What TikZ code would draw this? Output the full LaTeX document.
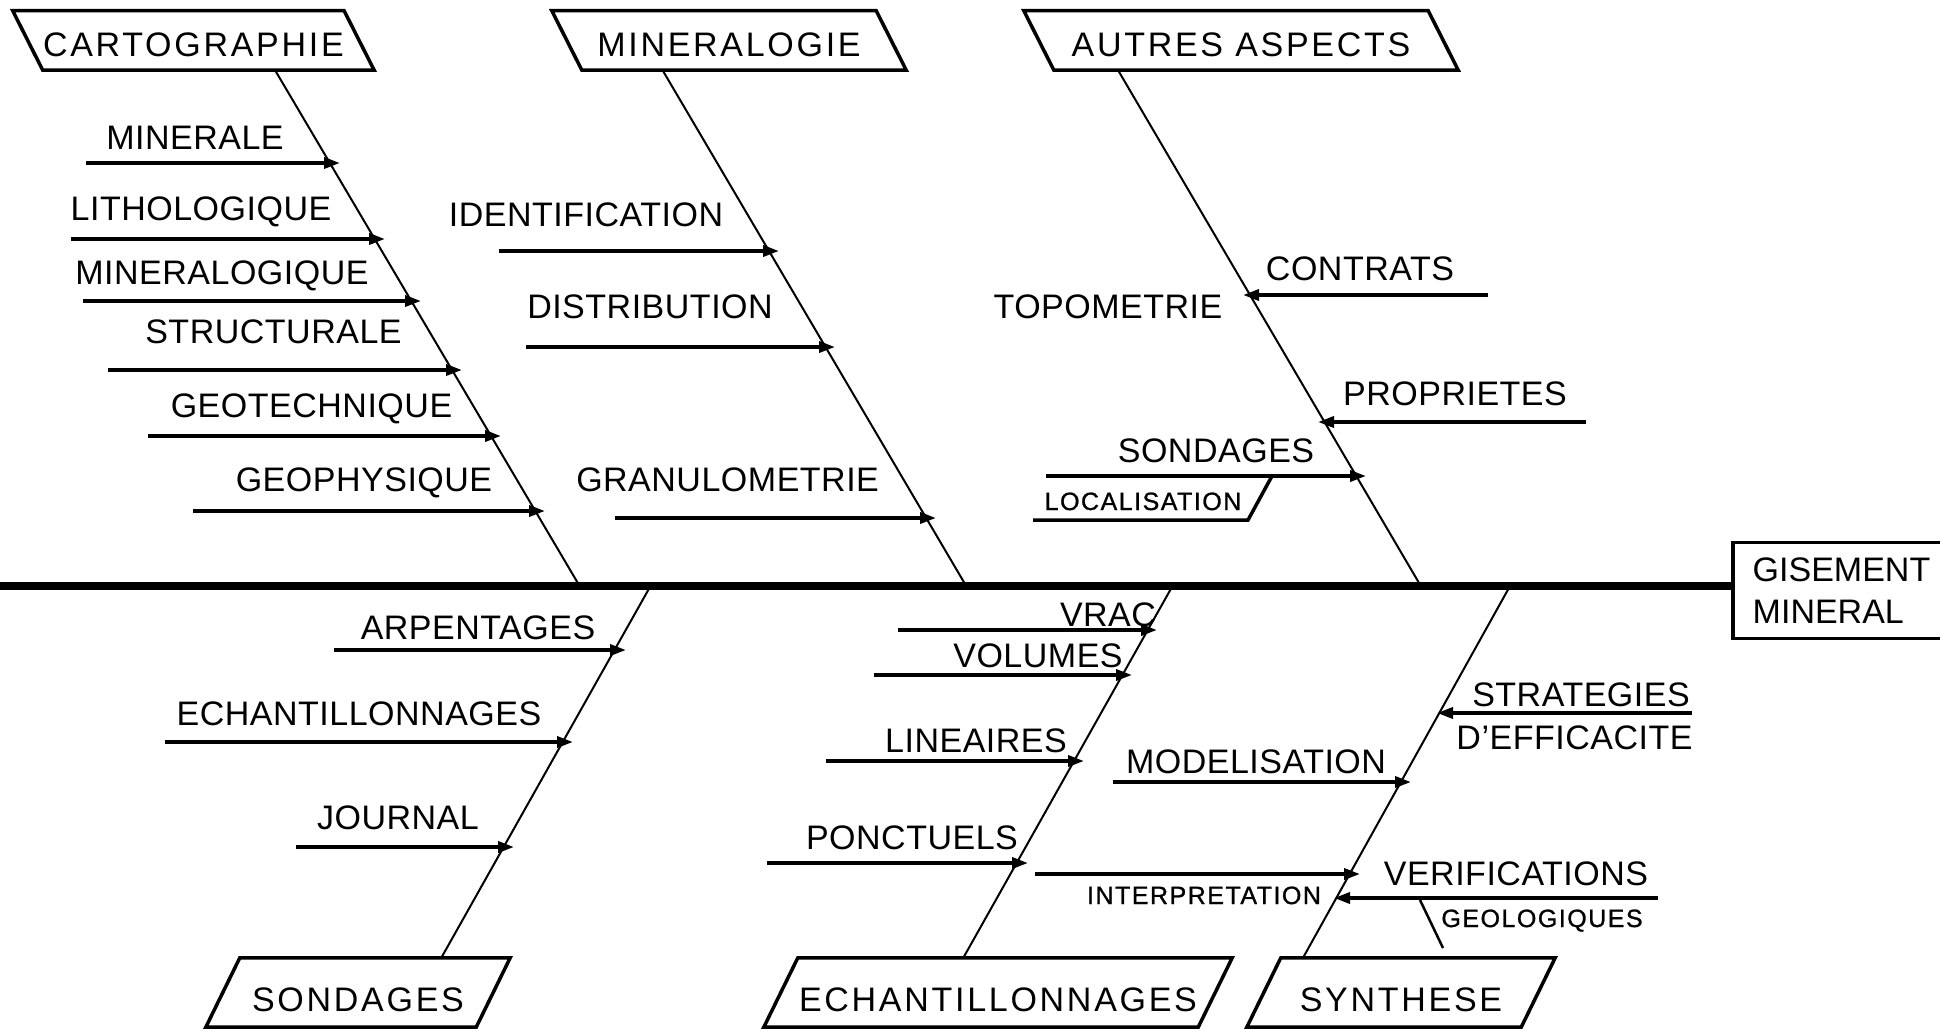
\documentclass[tikz,border=0pt]{standalone}
\usepackage{fontspec}
\setmainfont{Liberation Sans}
\newfontfamily\labelfont{Liberation Sans}[LetterSpace=1.5]
\newfontfamily\titlefont{Liberation Sans}[LetterSpace=8]
\newfontfamily\smallfont{Liberation Sans}[LetterSpace=6,FakeBold=1]
\usetikzlibrary{arrows.meta,calc}

% slanted frame around a (borderless) box node; #2 = horizontal half-offset
\newcommand\slantframe[2]{%
  \draw[frame] ($(#1.north west)-(#2,0)$) -- ($(#1.north east)-(#2,0)$)
    -- ($(#1.south east)+(#2,0)$) -- ($(#1.south west)+(#2,0)$) -- cycle;}

% horizontal cause arrow: name, y, free end x, tip x
\newcommand\causearrow[4]{%
  \coordinate (#1a) at (#3,#2);
  \coordinate (#1b) at (#4,#2);
  \draw[cause] (#1a) -- (#1b);}

\begin{document}
\begin{tikzpicture}[x=1pt,y=-1pt,
  spine/.style={line width=8.5pt},
  bone/.style={line width=2pt},
  frame/.style={line width=3.5pt, line join=miter},
  cause/.style={line width=3.5pt, -{Triangle[length=16pt,width=11pt]}},
  tick/.style={line width=2.5pt},
  lbl/.style={inner sep=0pt, anchor=base, font=\labelfont\fontsize{34}{40}\selectfont},
  sml/.style={inner sep=0pt, anchor=base, font=\smallfont\fontsize{25}{28}\selectfont},
  topbox/.style={inner sep=0pt, minimum height=59pt, text height=32pt, text depth=0pt,
    font=\titlefont\fontsize{34}{40}\selectfont},
  botbox/.style={inner sep=0pt, minimum height=69pt, text height=37pt, text depth=0pt,
    font=\titlefont\fontsize{34}{40}\selectfont},
]
\useasboundingbox (0,0) rectangle (1940,1031);

% ---- category boxes
\node[topbox, minimum width=331pt] (carto)  at (193.4,40.4) {CARTOGRAPHIE};
\node[topbox, minimum width=324pt] (minero) at (729,40.4)   {MINERALOGIE};
\node[topbox, minimum width=404pt] (autres) at (1241,40.4)  {AUTRES ASPECTS};
\node[botbox, minimum width=270pt] (sondbox) at (358,992.5)  {SONDAGES};
\node[botbox, minimum width=434pt] (echbox)  at (998,992.5)  {ECHANTILLONNAGES};
\node[botbox, minimum width=274pt] (synbox)  at (1401,992.5) {SYNTHESE};
\slantframe{carto}{15}
\slantframe{minero}{15}
\slantframe{autres}{15}
\slantframe{sondbox}{-17}
\slantframe{echbox}{-17}
\slantframe{synbox}{-17}

% ---- effect box and spine
\node[draw, line width=3.5pt, inner sep=0pt, minimum width=217pt, minimum height=96pt,
  align=left, font=\fontsize{34}{42}\selectfont] (gis) at (1841.5,590.5) {GISEMENT\\MINERAL};
\coordinate (spL) at (0,586);
\draw[spine] (spL) -- (spL -| gis.west);

% ---- bones
\coordinate (cartoJ) at (579.6,586);
\coordinate (mineroJ) at (966.2,586);
\coordinate (autresJ) at (1420.8,586);
\coordinate (sondJ) at (650.5,586);
\coordinate (echJ) at (1172.5,586);
\coordinate (synJ) at (1510,586);
\draw[bone] ($(carto.south)+(81.6,0)$) -- (cartoJ);
\draw[bone] ($(minero.south)+(-66.5,0)$) -- (mineroJ);
\draw[bone] ($(autres.south)+(-123,0)$) -- (autresJ);
\draw[bone] (sondJ) -- ($(sondbox.north)+(83.3,0)$);
\draw[bone] (echJ) -- ($(echbox.north)+(-34.7,0)$);
\draw[bone] (synJ) -- ($(synbox.north)+(-98,0)$);

% ---- cartographie
\causearrow{c1}{163}{86}{340}
\causearrow{c2}{239}{71}{385}
\causearrow{c3}{301}{83}{421}
\causearrow{c4}{370}{108}{462}
\causearrow{c5}{436}{148}{501}
\causearrow{c6}{511}{193}{545}
\node[lbl] (c1l) at (195,149) {MINERALE};
\node[lbl] (c2l) at (201,220) {LITHOLOGIQUE};
\node[lbl] (c3l) at (222,284) {MINERALOGIQUE};
\node[lbl] (c4l) at (273.5,343) {STRUCTURALE};
\node[lbl] (c5l) at (311.5,417) {GEOTECHNIQUE};
\node[lbl] (c6l) at (364,491) {GEOPHYSIQUE};

% ---- mineralogie
\causearrow{m1}{251}{499}{779}
\causearrow{m2}{347}{526}{835}
\causearrow{m3}{518}{615}{936}
\node[lbl] (m1l) at (586,226) {IDENTIFICATION};
\node[lbl] (m2l) at (650,318) {DISTRIBUTION};
\node[lbl] (m3l) at (727.6,491) {GRANULOMETRIE};

% ---- autres aspects
\causearrow{a1}{295}{1488}{1243}
\causearrow{a2}{422}{1586}{1318}
\causearrow{a3}{476}{1046}{1366}
\node[lbl] (a1l) at (1360,280) {CONTRATS};
\node[lbl] (a0l) at (1108,318) {TOPOMETRIE};
\node[lbl] (a2l) at (1455,405) {PROPRIETES};
\node[lbl] (a3l) at (1216,462) {SONDAGES};
\node[sml] (a4l) at (1143,510) {LOCALISATION};
\coordinate (loc1) at (1033,520);
\coordinate (loc2) at (1248,520);
\coordinate (loc3) at (1272,476);
\draw[frame] (loc1) -- (loc2) -- (loc3);

% ---- sondages
\causearrow{s1}{650}{334}{626}
\causearrow{s2}{742}{165}{573}
\causearrow{s3}{847}{296}{514}
\node[lbl] (s1l) at (478,639) {ARPENTAGES};
\node[lbl] (s2l) at (359,725) {ECHANTILLONNAGES};
\node[lbl] (s3l) at (398,829) {JOURNAL};

% ---- echantillonnages
\causearrow{e1}{630}{898}{1157}
\causearrow{e2}{675}{874}{1132}
\causearrow{e3}{761}{826}{1084}
\causearrow{e4}{863}{767}{1028}
\node[lbl] (e1l) at (1108,626) {VRAC};
\node[lbl] (e2l) at (1038,667) {VOLUMES};
\node[lbl] (e3l) at (976,752) {LINEAIRES};
\node[lbl] (e4l) at (912,849) {PONCTUELS};

% ---- synthese
\causearrow{y1}{713}{1692}{1437}
\causearrow{y2}{782}{1113}{1411}
\causearrow{y3}{874}{1035}{1360}
\causearrow{y4}{898}{1658}{1334}
\node[lbl] (y1l) at (1581,706) {STRATEGIES};
\node[lbl] (y1m) at (1574.5,749) {D’EFFICACITE};
\node[lbl] (y2l) at (1256,773) {MODELISATION};
\node[sml] (y3l) at (1204,904) {INTERPRETATION};
\node[lbl] (y4l) at (1516,885) {VERIFICATIONS};
\node[sml] (y4m) at (1542,927) {GEOLOGIQUES};
\coordinate (geo1) at (1420,900);
\coordinate (geo2) at (1443,948);
\draw[tick] (geo1) -- (geo2);
\end{tikzpicture}
\end{document}
